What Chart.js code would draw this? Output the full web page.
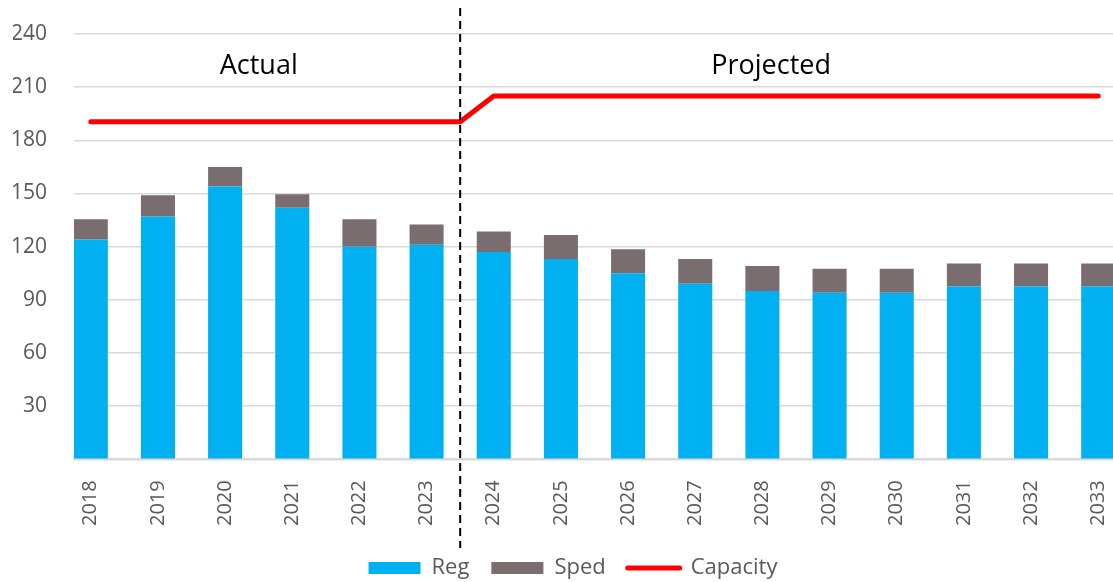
<!DOCTYPE html>
<html lang="en">

<head>
  <meta charset="UTF-8" />
  <title>Enrollment vs Capacity</title>
  <script src="https://cdn.jsdelivr.net/npm/chart.js@4"></script>
  <style>
    html, body { margin: 0; padding: 0; overflow: hidden; background: #fff; }
    .grafico { width: 1130px; height: 600px; }
  </style>
</head>

<body>
  <div class="grafico"><canvas id="canvas_grafico"></canvas></div>

  <script>
    // dados
    var anos = ["2018", "2019", "2020", "2021", "2022", "2023", "2024", "2025",
      "2026", "2027", "2028", "2029", "2030", "2031", "2032", "2033"];
    var reg = [124, 137, 154, 142, 120, 121, 117, 113, 105, 99, 95, 94, 94, 97.5, 97.5, 97.5];
    var sped = [11.5, 12, 11, 7.5, 15.5, 11.5, 11.5, 13.5, 13.5, 14, 14, 13.5, 13.5, 13, 13, 13];
    var capacidade = [190.5, 190.5, 190.5, 190.5, 190.5, 190.5, 205, 205,
      205, 205, 205, 205, 205, 205, 205, 205];
    // ponto extra da linha na divisao actual/projected (entre 2023 e 2024)
    var divisao = 5.5;
    var capacidade_divisao = 190.5;
    var ticks_y = [0, 30, 60, 90, 120, 150, 180, 210, 240];
    var rotulos = [{ texto: "Actual", x: 2.5 }, { texto: "Projected", x: 10.13 }];

    var fonte = '"Open Sans", "Noto Sans", sans-serif';
    var cinza_texto = "#595959";

    function pontos(valores) {
      return valores.map(function (v, i) { return { x: i, y: v }; });
    }

    var pontos_capacidade = pontos(capacidade);
    pontos_capacidade.splice(6, 0, { x: divisao, y: capacidade_divisao });

    // linha tracejada + textos Actual / Projected
    const plugin_divisao = {
      id: "divisao",
      afterLayout(chart) {
        // legenda um pouco mais para a direita, como no original
        chart.legend.left += 9;
        chart.legend.right += 9;
      },
      afterDatasetsDraw(chart) {
        const ctx = chart.ctx;
        const x = chart.scales.x.getPixelForValue(divisao);
        ctx.save();
        ctx.strokeStyle = "#000";
        ctx.lineWidth = 2;
        ctx.setLineDash([8, 5]);
        ctx.beginPath();
        ctx.moveTo(x, 8);
        ctx.lineTo(x, 548);
        ctx.stroke();
        ctx.setLineDash([]);
        ctx.fillStyle = "#000";
        ctx.font = "27px " + fonte;
        ctx.textAlign = "center";
        ctx.textBaseline = "middle";
        const y = chart.scales.y.getPixelForValue(222);
        rotulos.forEach(function (r) {
          ctx.fillText(r.texto, chart.scales.x.getPixelForValue(r.x), y);
        });
        ctx.restore();
      }
    };

    const grafico = document.getElementById("canvas_grafico");
    new Chart(grafico, {
      type: "bar",
      data: {
        datasets: [
          {
            label: "Reg",
            data: pontos(reg),
            backgroundColor: "#00B0F0",
            barPercentage: 0.507,
            categoryPercentage: 1,
          },
          {
            label: "Sped",
            data: pontos(sped),
            backgroundColor: "#796D70",
            barPercentage: 0.507,
            categoryPercentage: 1,
          },
          {
            type: "line",
            label: "Capacity",
            data: pontos_capacidade,
            borderColor: "#FF0000",
            backgroundColor: "#FF0000",
            borderWidth: 5,
            borderCapStyle: "round",
            borderJoinStyle: "round",
            pointRadius: 0,
            tension: 0,
          },
        ],
      },
      options: {
        responsive: true,
        maintainAspectRatio: false,
        animation: false,
        layout: { padding: { left: 13, right: 15, top: 34, bottom: 11 } },
        plugins: {
          tooltip: { enabled: false },
          legend: {
            position: "bottom",
            labels: {
              color: cinza_texto,
              font: { family: fonte, size: 22 },
              usePointStyle: true,
              pointStyleWidth: 52,
              boxHeight: 12,
              padding: 22,
              generateLabels(chart) {
                return chart.data.datasets.map(function (ds, i) {
                  const linha = ds.type === "line";
                  return {
                    text: ds.label,
                    datasetIndex: i,
                    fillStyle: ds.backgroundColor,
                    strokeStyle: ds.borderColor || ds.backgroundColor,
                    lineWidth: linha ? 5 : 0,
                    lineCap: "round",
                    pointStyle: linha ? "line" : "rect",
                    fontColor: cinza_texto,
                    hidden: false,
                  };
                });
              },
            },
          },
        },
        scales: {
          x: {
            type: "linear",
            stacked: true,
            offset: false,
            min: -0.25,
            max: 15.25,
            afterBuildTicks(scale) {
              scale.ticks = anos.map(function (a, i) { return { value: i }; });
            },
            afterFit(scale) {
              scale.paddingLeft = 0;
              scale.paddingRight = 0;
              scale.height -= 12;
            },
            grid: { display: false, drawTicks: false },
            border: { display: true, color: "#D9D9D9", width: 2 },
            ticks: {
              minRotation: 90,
              maxRotation: 90,
              padding: 21,
              color: cinza_texto,
              font: { family: fonte, size: 20 },
              callback: function (v) { return anos[v]; },
            },
          },
          y: {
            stacked: true,
            min: 0,
            max: 240,
            afterBuildTicks(scale) {
              scale.ticks = ticks_y.map(function (v) { return { value: v }; });
            },
            afterFit(scale) {
              scale.width = 61;
              scale.paddingTop = 0;
              scale.paddingBottom = 0;
            },
            grid: { color: "#D9D9D9", lineWidth: 1.5, drawTicks: false },
            border: { display: false },
            ticks: {
              padding: 27,
              color: cinza_texto,
              font: { family: fonte, size: 21 },
              callback: function (v) { return v === 0 ? "" : v; },
            },
          },
        },
      },
      plugins: [plugin_divisao],
    });
  </script>
</body>

</html>
